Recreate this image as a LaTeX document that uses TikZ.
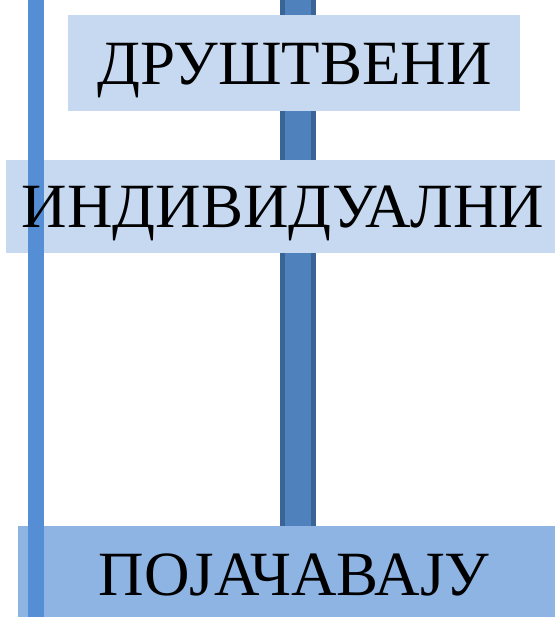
\documentclass[tikz,border=0pt]{standalone}
\usepackage{fontspec}
\setmainfont{Liberation Serif}
\definecolor{lightbox}{HTML}{C6D9F1}
\definecolor{darkbox}{HTML}{8EB4E3}
\definecolor{leftbar}{HTML}{558ED5}
\definecolor{midbar}{HTML}{4F81BD}
\definecolor{midedge}{HTML}{3A6396}
\tikzset{
  boxlabel/.style={anchor=base, inner sep=0pt, font=\fontsize{63}{63}\selectfont, text=black},
}
\begin{document}
\begin{tikzpicture}[x=1pt,y=-1pt]
\useasboundingbox (0,0) rectangle (555,617);
% middle vertical bar
\fill[midedge] (280,0) rectangle (316,526);
\fill[midbar] (285,0) rectangle (311,526);
% boxes
\fill[lightbox] (68,15) rectangle (520,111);
\fill[lightbox] (6,160) rectangle (555,253);
\fill[darkbox] (18,526) rectangle (555,617);
% left bar
\fill[leftbar] (28,0) rectangle (44,617);
% labels
\node[boxlabel] (t1) at (294.5,85) {ДРУШТВЕНИ};
\node[boxlabel] (t2) at (283,228) {ИНДИВИДУАЛНИ};
\node[boxlabel] (t3) at (294,595) {ПОЈАЧАВАЈУ};
\end{tikzpicture}
\end{document}
